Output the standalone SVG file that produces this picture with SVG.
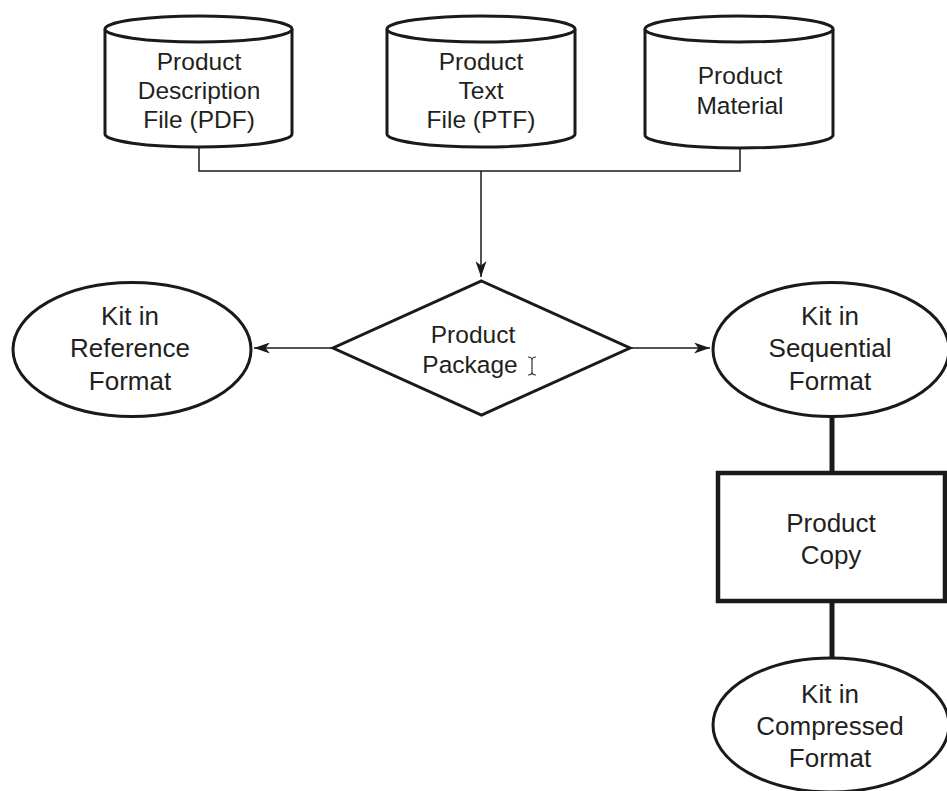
<svg xmlns="http://www.w3.org/2000/svg" width="947" height="791" viewBox="0 0 947 791">
  <style>
    .shape { fill: #ffffff; stroke: #1a1a1a; stroke-width: 3; }
    .box { fill: #ffffff; stroke: #1a1a1a; stroke-width: 4.5; }
    .thin { fill: none; stroke: #1a1a1a; stroke-width: 1.5; }
    .thick { fill: none; stroke: #1a1a1a; stroke-width: 5; }
    .label { font-family: "Liberation Sans", Arial, sans-serif; font-size: 24.5px; fill: #231f20; text-anchor: middle; }
    .big { font-size: 26px; }
  </style>
  <defs>
    <marker id="arrow" viewBox="0 0 16 11" refX="16" refY="5.5" markerWidth="16" markerHeight="11" markerUnits="userSpaceOnUse" orient="auto">
      <path d="M0,0 L16,5.5 L0,11 L4.5,5.5 z" fill="#1a1a1a"/>
    </marker>
  </defs>

  <rect width="947" height="791" fill="#ffffff"/>

  <!-- connectors -->
  <g id="connectors">
    <path class="thin" d="M199,147 V171 H740 V148"/>
    <path class="thin" d="M481,171 V277" marker-end="url(#arrow)"/>
    <path class="thin" d="M333,348 H254" marker-end="url(#arrow)"/>
    <path class="thin" d="M630,348 H710" marker-end="url(#arrow)"/>
    <path class="thick" d="M832,417 V473"/>
    <path class="thick" d="M832,602 V658"/>
  </g>

  <!-- data stores -->
  <g id="pdf-store">
    <path class="shape" d="M105,29 V134 A93.5,13 0 0 0 292,134 V29"/>
    <ellipse class="shape" cx="198.5" cy="29" rx="93.5" ry="13"/>
    <text class="label" x="199" y="70">Product</text>
    <text class="label" x="199" y="99">Description</text>
    <text class="label" x="199" y="128">File (PDF)</text>
  </g>

  <g id="ptf-store">
    <path class="shape" d="M387,29 V134 A94,13 0 0 0 575,134 V29"/>
    <ellipse class="shape" cx="481" cy="29" rx="94" ry="13"/>
    <text class="label" x="481" y="70">Product</text>
    <text class="label" x="481" y="99">Text</text>
    <text class="label" x="481" y="128">File (PTF)</text>
  </g>

  <g id="material-store">
    <path class="shape" d="M645,29 V135 A94,13 0 0 0 833,135 V29"/>
    <ellipse class="shape" cx="739" cy="29" rx="94" ry="13"/>
    <text class="label" x="740" y="84">Product</text>
    <text class="label" x="740" y="114">Material</text>
  </g>

  <!-- decision -->
  <g id="product-package">
    <polygon class="shape" points="481.5,281 630,348 481.5,415 333,348"/>
    <text class="label" x="473" y="343">Product</text>
    <text class="label" x="470" y="373">Package</text>
    <path d="M528,357 Q532,357 532,360 Q532,357 536,357 M532,360 V372 M528,375 Q532,375 532,372 Q532,375 536,375" fill="none" stroke="#333333" stroke-width="1.2"/>
  </g>

  <!-- outputs -->
  <g id="kit-reference">
    <ellipse class="shape" cx="132" cy="349.5" rx="119" ry="67"/>
    <text class="label big" x="130" y="325">Kit in</text>
    <text class="label big" x="130" y="357">Reference</text>
    <text class="label big" x="130" y="390">Format</text>
  </g>

  <g id="kit-sequential">
    <ellipse class="shape" cx="831" cy="349.5" rx="118" ry="67"/>
    <text class="label big" x="830" y="325">Kit in</text>
    <text class="label big" x="830" y="357">Sequential</text>
    <text class="label big" x="830" y="390">Format</text>
  </g>

  <g id="product-copy">
    <rect class="box" x="718" y="473" width="227" height="128"/>
    <text class="label big" x="831" y="532">Product</text>
    <text class="label big" x="831" y="564">Copy</text>
  </g>

  <g id="kit-compressed">
    <ellipse class="shape" cx="831" cy="725" rx="118" ry="67"/>
    <text class="label big" x="830" y="703">Kit in</text>
    <text class="label big" x="830" y="735">Compressed</text>
    <text class="label big" x="830" y="767">Format</text>
  </g>
</svg>
